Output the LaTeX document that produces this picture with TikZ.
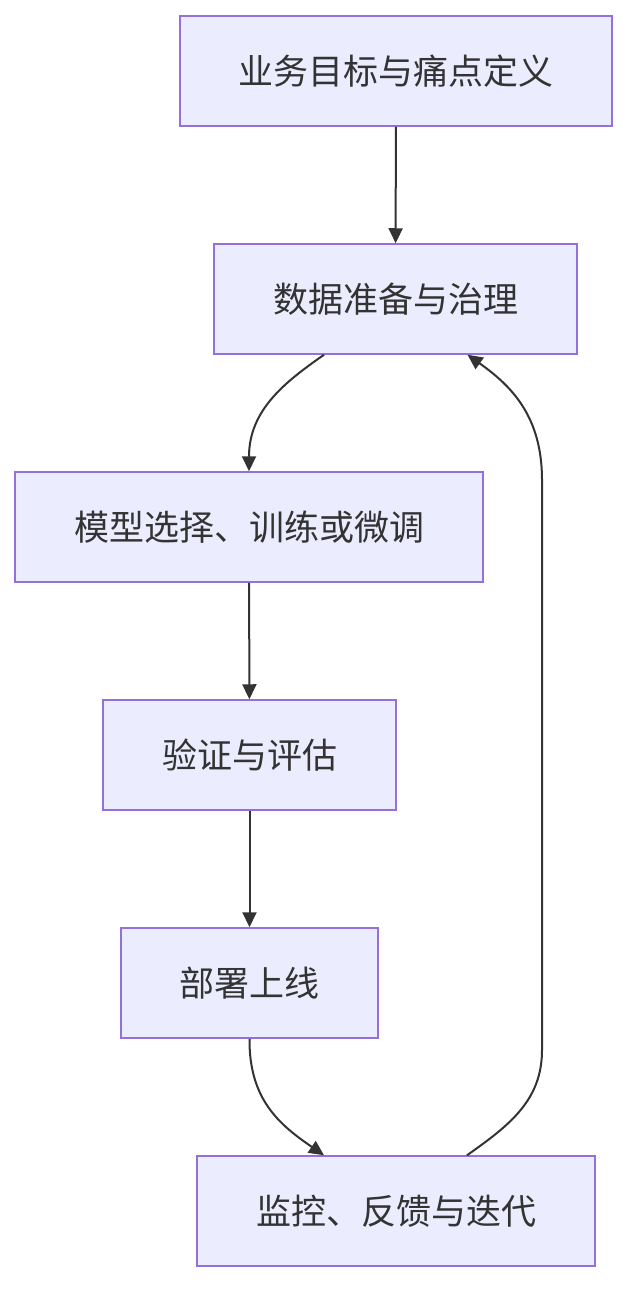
\documentclass[tikz,border=0pt]{standalone}
\usepackage{fontspec}
\setmainfont{Noto Sans CJK SC}
\usetikzlibrary{arrows.meta}
\definecolor{stepfill}{HTML}{ECECFF}
\definecolor{stepline}{HTML}{9370DB}
\definecolor{ink}{HTML}{333333}

\begin{document}
\begin{tikzpicture}[
  x=1pt, y=-1pt,
  stepbox/.style={
    draw=stepline, fill=stepfill, line width=1.5pt,
    minimum height=110pt, inner sep=0pt,
    font=\fontsize{35}{42}\selectfont, text=ink, align=center
  },
  flow/.style={-{Triangle[length=15pt, width=14pt]}, line width=2pt, draw=ink}
]
\useasboundingbox (0,0) rectangle (644,1316);

% Pipeline stages.
\node[stepbox, minimum width=432pt] (goal)    at (396,71)    {业务目标与痛点定义};
\node[stepbox, minimum width=363pt] (data)    at (395.5,299) {数据准备与治理};
\node[stepbox, minimum width=468pt] (model)   at (249,527)   {模型选择、训练或微调};
\node[stepbox, minimum width=293pt] (eval)    at (249.5,755) {验证与评估};
\node[stepbox, minimum width=257pt] (deploy)  at (249.5,983) {部署上线};
\node[stepbox, minimum width=398pt] (monitor) at (396,1211)  {监控、反馈与迭代};

% Feedback rail on the right.
\coordinate (railtop) at (542,480);
\coordinate (railbot) at (542,1050);

% Main flow.
\draw[flow] (goal) -- (data);
\draw[flow] ([xshift=-71.5pt]data.south) .. controls (285,382) and (249,410) .. (model.north);
\draw[flow] (model) -- (eval);
\draw[flow] (eval) -- (deploy);
\draw[flow] (deploy.south) .. controls (249,1100) and (280,1125) .. ([xshift=-72pt]monitor.north);

% Monitoring feeds back into data preparation.
\draw[flow] ([xshift=71pt]monitor.north) .. controls (510,1125) and (542,1100) .. (railbot)
  -- (railtop) .. controls (542,415) and (510,385) .. ([xshift=72pt]data.south);

\end{tikzpicture}
\end{document}
